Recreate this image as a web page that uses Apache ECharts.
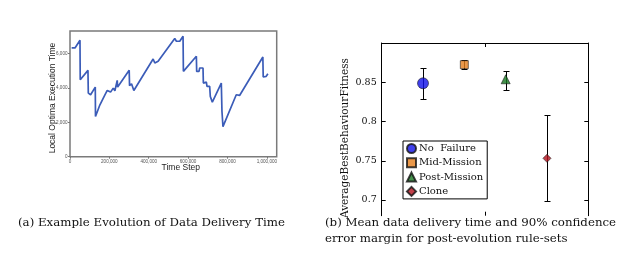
<!DOCTYPE html>
<html><head><meta charset="utf-8">
<script src="https://cdn.jsdelivr.net/npm/echarts@6/dist/echarts.min.js"></script>
<style>html,body{margin:0;padding:0;background:#fff}#c{width:628px;height:255px}</style>
</head><body><div id="c"></div>
<script>
// ---- Left panel: example evolution ----
const timeSteps = [8400,25300,50700,52000,91200,93000,104700,111500,128400,129500,152000,177400,189200,199300,206100,219600,228000,239900,242000,300700,302500,312500,324300,422300,430700,447600,532100,540500,557400,574300,576000,641900,643500,655400,658800,675700,677500,692600,695900,709500,712800,723000,768600,772000,777000,782100,844600,853000,861500,979700,981500,996600,1005100];
const execTimes = [6317,6317,6764,4470,5015,3693,3596,3596,4043,2332,3013,3596,3848,3887,3751,3984,3829,4431,4043,5015,4120,4237,3848,5675,5442,5539,6861,6705,6705,6997,4956,5831,4956,4956,5151,5151,4276,4334,4082,4082,3499,3168,4276,2624,1749,1691,3596,3693,3557,5792,4626,4665,4820];
const leftXTicks = [0,200000,400000,600000,800000,1000000];
const leftYTicks = [0,2000,4000,6000];

// ---- Right panel: mean fitness with 90% CI ----
const groups = ['No  Failure','Mid-Mission','Post-Mission','Clone'];
const groupX = [1,2,3,4];
const meanFit = [0.8487,0.8724,0.8538,0.7531];
const lowFit = [0.8283,0.8670,0.8398,0.6985];
const highFit = [0.8678,0.8788,0.8640,0.8087];
const rightYTicks = [0.7,0.75,0.8,0.85,0.9];
const rightYLabels = [0.7,0.75,0.8,0.85];

const symbols = ['circle','rect','triangle','diamond'];
const colors = ['#1010e8','#e57e1c','#17761f','#b3101d'];
const symSizes = [11,8,9,8];

const chart = echarts.init(document.getElementById('c'), null, {renderer:'canvas'});
const serif = 'DejaVu Serif';
const sans = 'Liberation Sans';

const pointSeries = groups.map((g,i)=>({
  name: g, type:'scatter', xAxisIndex:1, yAxisIndex:1,
  symbol: symbols[i], symbolSize: symSizes[i], z: 5,
  itemStyle:{color: colors[i], borderColor:'#111', borderWidth:0.7},
  data: [[groupX[i], meanFit[i]]]
}));

const option = {
  animation:false,
  backgroundColor:'#fff',
  grid:[
    {left:70, top:31, width:206.7, height:125.7, show:true, borderColor:'#7a7a7a', borderWidth:1.5, backgroundColor:'transparent'},
    {left:381.7, top:43, width:206.6, height:172.7, show:false}
  ],
  xAxis:[
    {type:'value', gridIndex:0, min:0, max:1050000,
     axisLine:{show:false}, splitLine:{show:false},
     axisTick:{show:true, length:2, lineStyle:{color:'#777'}, customValues:leftXTicks},
     axisLabel:{fontSize:4.6, color:'#555', margin:2.5, fontFamily:sans, customValues:leftXTicks,
       formatter:v=>v.toLocaleString('en-US')}},
    {type:'value', gridIndex:1, min:0, max:5, position:'bottom',
     axisLine:{show:false}, splitLine:{show:false},
     axisTick:{show:true, inside:true, length:4, lineStyle:{color:'#000'}, customValues:[2.5]},
     axisLabel:{show:false}},
    {type:'value', gridIndex:1, min:0, max:5, position:'top',
     axisLine:{show:true, onZero:false, lineStyle:{color:'#000', width:1}}, splitLine:{show:false},
     axisTick:{show:true, inside:true, length:4, lineStyle:{color:'#000'}, customValues:[2.5]},
     axisLabel:{show:false}}
  ],
  yAxis:[
    {type:'value', gridIndex:0, min:0, max:7300,
     axisLine:{show:false}, splitLine:{show:false},
     axisTick:{show:true, length:2, lineStyle:{color:'#777'}, customValues:leftYTicks},
     axisLabel:{fontSize:4.6, color:'#555', margin:2.5, fontFamily:sans, customValues:leftYTicks,
       formatter:v=>v.toLocaleString('en-US')}},
    {type:'value', gridIndex:1, min:0.68, max:0.9, position:'left',
     axisLine:{show:true, onZero:false, lineStyle:{color:'#000', width:1}}, splitLine:{show:false},
     axisTick:{show:true, inside:true, length:4, lineStyle:{color:'#000'}, customValues:rightYTicks},
     axisLabel:{fontSize:9.5, color:'#111', margin:5, fontFamily:serif, customValues:rightYLabels,
       formatter:v=>String(+v.toFixed(2))}},
    {type:'value', gridIndex:1, min:0.68, max:0.9, position:'right',
     axisLine:{show:true, onZero:false, lineStyle:{color:'#000', width:1}}, splitLine:{show:false},
     axisTick:{show:true, inside:true, length:4, lineStyle:{color:'#000'}, customValues:rightYTicks},
     axisLabel:{show:false}}
  ],
  legend:{
    data: groups, orient:'vertical', left:403, top:141,
    backgroundColor:'#fff', borderColor:'#000', borderWidth:1,
    padding:[2,4,2,3], itemGap:3.3, itemWidth:9, itemHeight:9,
    textStyle:{fontFamily:serif, fontSize:10, color:'#111', lineHeight:11, padding:[0,0,0,-2]},
    selectedMode:false
  },
  series:[
    {type:'line', xAxisIndex:0, yAxisIndex:0, showSymbol:false, symbol:'none',
     lineStyle:{color:'#3b5cb8', width:1.7},
     data: timeSteps.map((t,i)=>[t, execTimes[i]])},
    {type:'custom', xAxisIndex:1, yAxisIndex:1, z:3,
     data: groupX.map((x,i)=>[x, lowFit[i], highFit[i]]),
     renderItem:function(params, api){
       const lo = api.coord([api.value(0), api.value(1)]);
       const hi = api.coord([api.value(0), api.value(2)]);
       const x = Math.round(lo[0]) + 0.5;
       const y1 = Math.round(lo[1]) + 0.5, y2 = Math.round(hi[1]) + 0.5;
       const w = 3;
       const st = {stroke:'#000', lineWidth:1};
       return {type:'group', children:[
         {type:'line', shape:{x1:x, y1:y1, x2:x, y2:y2}, style:st},
         {type:'line', shape:{x1:x-w, y1:y1, x2:x+w, y2:y1}, style:st},
         {type:'line', shape:{x1:x-w, y1:y2, x2:x+w, y2:y2}, style:st}
       ]};
     }}
  ].concat(pointSeries),
  graphic:[
    {type:'text', x:180.8, y:167.3, style:{text:'Time Step', font:'8.5px "Liberation Sans"', fill:'#222', textAlign:'center', textVerticalAlign:'middle'}},
    {type:'text', x:52.5, y:98, rotation:Math.PI/2, style:{text:'Local Optima Execution Time', font:'8.5px "Liberation Sans"', fill:'#222', textAlign:'center', textVerticalAlign:'middle'}},
    {type:'text', x:345.5, y:138, rotation:Math.PI/2, style:{text:'AverageBestBehaviourFitness', font:'10.5px "DejaVu Serif"', fill:'#111', textAlign:'center', textVerticalAlign:'middle'}},
    {type:'text', x:18, y:222.5, style:{text:'(a) Example Evolution of Data Delivery Time', font:'11.8px "DejaVu Serif"', fill:'#111', textAlign:'left', textVerticalAlign:'middle'}},
    {type:'text', x:325, y:222.5, style:{text:'(b) Mean data delivery time and 90% confidence', font:'11.8px "DejaVu Serif"', fill:'#111', textAlign:'left', textVerticalAlign:'middle'}},
    {type:'text', x:325, y:239, style:{text:'error margin for post-evolution rule-sets', font:'11.8px "DejaVu Serif"', fill:'#111', textAlign:'left', textVerticalAlign:'middle'}}
  ]
};
chart.setOption(option);
</script></body></html>
